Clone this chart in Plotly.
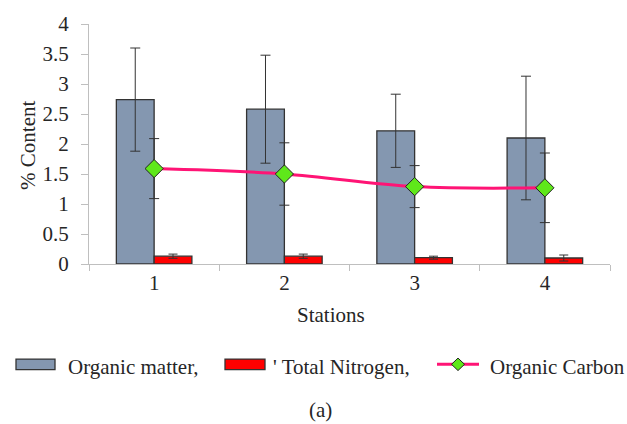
import plotly.graph_objects as go

stations = ["1", "2", "3", "4"]
organic_matter = [2.74, 2.58, 2.22, 2.10]
organic_matter_err = [0.86, 0.90, 0.61, 1.03]
total_nitrogen = [0.13, 0.13, 0.105, 0.10]
total_nitrogen_err = [0.035, 0.035, 0.025, 0.05]
organic_carbon = [1.59, 1.50, 1.29, 1.27]
organic_carbon_err = [0.50, 0.52, 0.35, 0.58]
y_ticks = [0, 0.5, 1, 1.5, 2, 2.5, 3, 3.5, 4]

W, H = 627, 424
L, R, T, B = 89, 17, 14, 160
PW, PH = W - L - R, H - T - B
FONT = "Times New Roman, Liberation Serif, serif"
FS = 21
TXT = "#262626"

def px(x):
    return (x - L) / PW

def py(y):
    return (H - B - y) / PH

fig = go.Figure()
fig.add_trace(go.Bar(
    x=stations, y=organic_matter, name="Organic matter,",
    marker=dict(color="#8497B0", line=dict(color="#333333", width=1.3)),
    error_y=dict(type="data", array=organic_matter_err, color="#333333", thickness=1, width=5),
    showlegend=False,
))
fig.add_trace(go.Bar(
    x=stations, y=total_nitrogen, name="Total Nitrogen,",
    marker=dict(color="#FF0000", line=dict(color="#333333", width=1.3)),
    error_y=dict(type="data", array=total_nitrogen_err, color="#333333", thickness=1, width=4.5),
    showlegend=False,
))
fig.add_trace(go.Scatter(
    x=stations, y=organic_carbon, name="Organic Carbon", mode="lines+markers",
    line=dict(color="#FF1475", width=3, shape="spline", smoothing=1),
    marker=dict(symbol="diamond", size=14, color="#5FE81A", line=dict(color="#222222", width=1)),
    error_y=dict(type="data", array=organic_carbon_err, color="#333333", thickness=1, width=5),
    showlegend=False,
))

shapes = []
annotations = []
# custom legend
ly = 368.5
shapes.append(dict(type="rect", xref="paper", yref="paper",
                   x0=px(16), x1=px(55), y0=py(363), y1=py(374),
                   fillcolor="#8497B0", line=dict(color="#333333", width=1.3)))
shapes.append(dict(type="rect", xref="paper", yref="paper",
                   x0=px(225), x1=px(265), y0=py(363), y1=py(374),
                   fillcolor="#FF0000", line=dict(color="#333333", width=1.3)))
shapes.append(dict(type="line", xref="paper", yref="paper",
                   x0=px(437), x1=px(479), y0=py(ly), y1=py(ly),
                   line=dict(color="#FF1475", width=3)))
d = 6.5
shapes.append(dict(type="path", xref="paper", yref="paper",
                   path=f"M {px(458-d)} {py(ly)} L {px(458)} {py(ly-d)} L {px(458+d)} {py(ly)} L {px(458)} {py(ly+d)} Z",
                   fillcolor="#5FE81A", line=dict(color="#222222", width=1)))
for x0, text in [(66, "Organic matter,"), (271, "' Total Nitrogen,"), (488, "Organic Carbon")]:
    annotations.append(dict(text=text, xref="paper", yref="paper", x=px(x0), y=py(ly + 3),
                            xanchor="left", yanchor="middle", showarrow=False,
                            font=dict(family=FONT, size=FS, color=TXT)))
annotations.append(dict(text="Stations", xref="paper", yref="paper", x=px(331), y=py(317),
                        xanchor="center", yanchor="middle", showarrow=False,
                        font=dict(family=FONT, size=FS, color=TXT)))
annotations.append(dict(text="(a)", xref="paper", yref="paper", x=px(320), y=py(416),
                        xanchor="center", yanchor="middle", showarrow=False,
                        font=dict(family=FONT, size=FS, color=TXT)))
annotations.append(dict(text="% Content", xref="paper", yref="paper", x=px(28), y=py(141),
                        xanchor="center", yanchor="middle", showarrow=False, textangle=-90,
                        font=dict(family=FONT, size=FS, color=TXT)))

fig.update_layout(
    width=W, height=H,
    margin=dict(l=L, r=R, t=T, b=B),
    paper_bgcolor="white", plot_bgcolor="white",
    barmode="group", bargap=0.42, bargroupgap=0,
    font=dict(family=FONT, size=FS, color=TXT),
    shapes=shapes, annotations=annotations,
    showlegend=False,
)
fig.update_xaxes(
    type="category", showline=True, linecolor="#BFBFBF", linewidth=1,
    ticks="outside", tickson="boundaries", ticklen=6, tickcolor="#BFBFBF",
    showgrid=False, zeroline=False,
    tickfont=dict(family=FONT, size=FS, color=TXT),
)
fig.update_yaxes(
    range=[0, 4], tickvals=y_ticks, ticktext=[f"{v:g}" for v in y_ticks],
    showline=True, linecolor="#BFBFBF", linewidth=1,
    ticks="outside", ticklen=7, tickcolor="#BFBFBF",
    showgrid=False, zeroline=False, ticklabelstandoff=8,
    tickfont=dict(family=FONT, size=FS, color=TXT),
)

fig.write_html("out.html")
